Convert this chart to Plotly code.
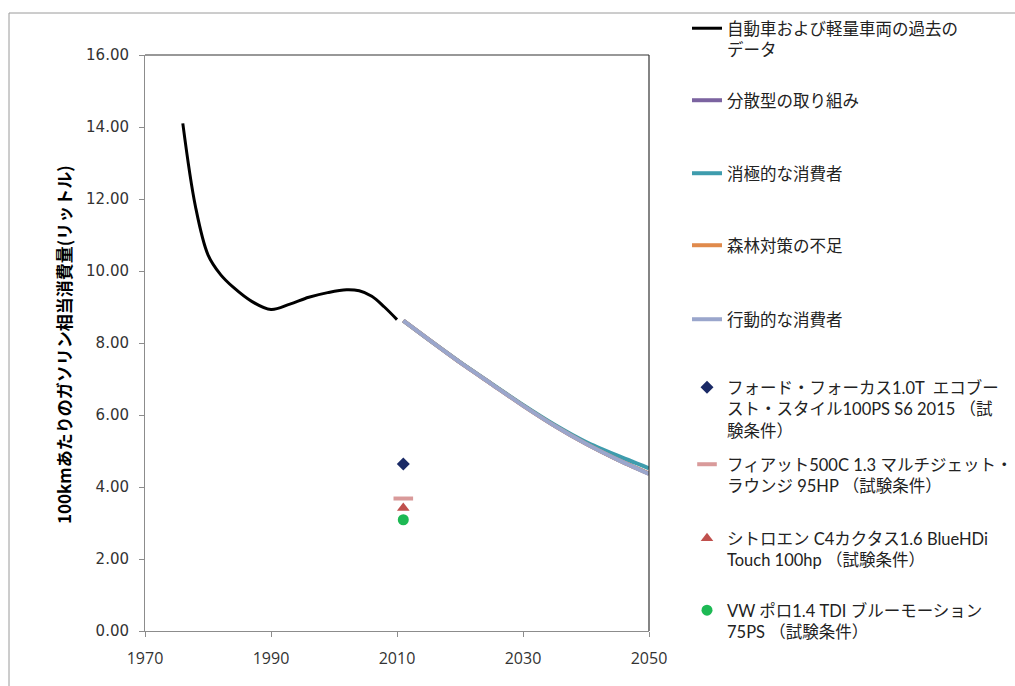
import plotly.graph_objects as go

# ---- data ----
hist_years = [1976, 1978, 1980, 1982, 1984, 1987, 1990, 1993, 1996, 1999, 2002, 2004, 2006, 2008, 2010]
hist_values = [14.1, 11.8, 10.45, 9.9, 9.55, 9.15, 8.93, 9.08, 9.27, 9.4, 9.48, 9.45, 9.3, 9.0, 8.65]

proj_years = [2011, 2015, 2020, 2025, 2030, 2035, 2040, 2045, 2050]
decentral = [8.62, 8.1, 7.46, 6.86, 6.26, 5.7, 5.2, 4.76, 4.37]
passive = [8.62, 8.1, 7.47, 6.87, 6.28, 5.73, 5.25, 4.87, 4.52]
no_forest = [8.62, 8.1, 7.46, 6.86, 6.26, 5.7, 5.2, 4.76, 4.37]
active = [8.62, 8.1, 7.46, 6.86, 6.26, 5.7, 5.2, 4.76, 4.36]

car_year = [2011]
ford = [4.64]
fiat = [3.68]
citroen = [3.42]
vw = [3.09]

names = [
    "自動車および軽量車両の過去の<br>データ",
    "分散型の取り組み",
    "消極的な消費者",
    "森林対策の不足",
    "行動的な消費者",
    "フォード・フォーカス1.0T  エコブー<br>スト・スタイル100PS S6 2015 （試<br>験条件）",
    "フィアット500C 1.3 マルチジェット・<br>ラウンジ 95HP （試験条件）",
    "シトロエン C4カクタス1.6 BlueHDi<br>Touch 100hp （試験条件）",
    "VW ポロ1.4 TDI ブルーモーション<br>75PS （試験条件）",
]
item_y_px = [28, 100, 173, 245, 319, 387, 464, 538, 610]

# ---- geometry ----
W, H = 1015, 686
L, R, T, B = 145, 649, 55, 631

fig = go.Figure()
lg = ["legend"] + ["legend%d" % i for i in range(2, 10)]

fig.add_trace(go.Scatter(x=hist_years, y=hist_values, mode="lines", name=names[0],
                         line=dict(color="black", width=3, shape="spline", smoothing=1.0), legend=lg[0]))
line_cols = ["#7B63A0", "#3E9CAD", "#E08A4C", "#9AA6CC"]
for i, (vals, col) in enumerate(zip([decentral, passive, no_forest, active], line_cols)):
    fig.add_trace(go.Scatter(x=proj_years, y=vals, mode="lines", name=names[i + 1],
                             line=dict(color=col, width=4, shape="spline", smoothing=0.6), legend=lg[i + 1]))

fig.add_trace(go.Scatter(x=car_year, y=ford, mode="markers", name=names[5], legend=lg[5],
                         marker=dict(symbol="diamond", size=10, color="#1A2A66")))
fig.add_trace(go.Scatter(x=car_year, y=fiat, mode="markers", name=names[6], legend=lg[6],
                         marker=dict(symbol="line-ew", size=14, color="#D99A9A",
                                     line=dict(color="#D99A9A", width=4))))
fig.add_trace(go.Scatter(x=car_year, y=citroen, mode="markers", name=names[7], legend=lg[7],
                         marker=dict(symbol="triangle-up", size=11, color="#C0504D")))
fig.add_trace(go.Scatter(x=car_year, y=vw, mode="markers", name=names[8], legend=lg[8],
                         marker=dict(symbol="circle", size=11, color="#1DB954")))

legend_font = dict(family="Lato, Noto Sans CJK JP", size=16.5, color="#222222")
layout_legends = {}
for key, ypx in zip(lg, item_y_px):
    layout_legends[key] = dict(
        x=(687 - L) / (R - L), xanchor="left",
        y=(B - (ypx - 17)) / (B - T), yanchor="top",
        bgcolor="rgba(0,0,0,0)", borderwidth=0, font=legend_font,
        valign="top", tracegroupgap=0, itemwidth=30,
    )

fig.update_layout(
    width=W, height=H,
    margin=dict(l=L, r=W - R, t=T, b=H - B, autoexpand=False),
    paper_bgcolor="white", plot_bgcolor="white",
    showlegend=True,
    **layout_legends,
    xaxis=dict(range=[1970, 2050], tickmode="array", tickvals=[1970, 1990, 2010, 2030, 2050],
               showgrid=False, zeroline=False, showline=True, linecolor="#8C8C8C", linewidth=1,
               ticks="outside", ticklen=5, tickcolor="#8C8C8C",
               tickfont=dict(family="Open Sans", size=16, color="#333333"), ticklabelstandoff=8),
    yaxis=dict(range=[0, 16], tickmode="array", tickvals=[0, 2, 4, 6, 8, 10, 12, 14, 16],
               tickformat=".2f", showgrid=False, zeroline=False, showline=True,
               linecolor="#8C8C8C", linewidth=1, ticks="outside", ticklen=5, tickcolor="#8C8C8C",
               tickfont=dict(family="DejaVu Sans", size=15, color="#333333"), ticklabelstandoff=7),
    shapes=[
        # plot area border (top / right)
        dict(type="line", xref="paper", yref="paper", x0=0, x1=1, y0=1, y1=1,
             line=dict(color="#333333", width=1.2)),
        dict(type="line", xref="paper", yref="paper", x0=1, x1=1, y0=0, y1=1,
             line=dict(color="#333333", width=1.2)),
        # outer chart border
        dict(type="line", xref="paper", yref="paper",
             x0=(9 - L) / (R - L), x1=(W + 5 - L) / (R - L),
             y0=(B - 13) / (B - T), y1=(B - 13) / (B - T),
             line=dict(color="#9A9A9A", width=1)),
        dict(type="line", xref="paper", yref="paper",
             x0=(9 - L) / (R - L), x1=(9 - L) / (R - L),
             y0=(B - 13) / (B - T), y1=(B - H - 5) / (B - T),
             line=dict(color="#9A9A9A", width=1)),
    ],
    annotations=[
        dict(text="100kmあたりのガソリン相当消費量(リットル)", textangle=-90,
             xref="paper", yref="paper", x=(63 - L) / (R - L), y=(B - 345) / (B - T),
             xanchor="center", yanchor="middle", showarrow=False,
             font=dict(family="Noto Sans CJK JP", size=17, color="black", weight="bold")),
    ],
)

fig.write_html(
    "out.html",
    config={"displayModeBar": False},
    post_script="document.body.style.margin='0';document.body.style.overflow='hidden';",
)
